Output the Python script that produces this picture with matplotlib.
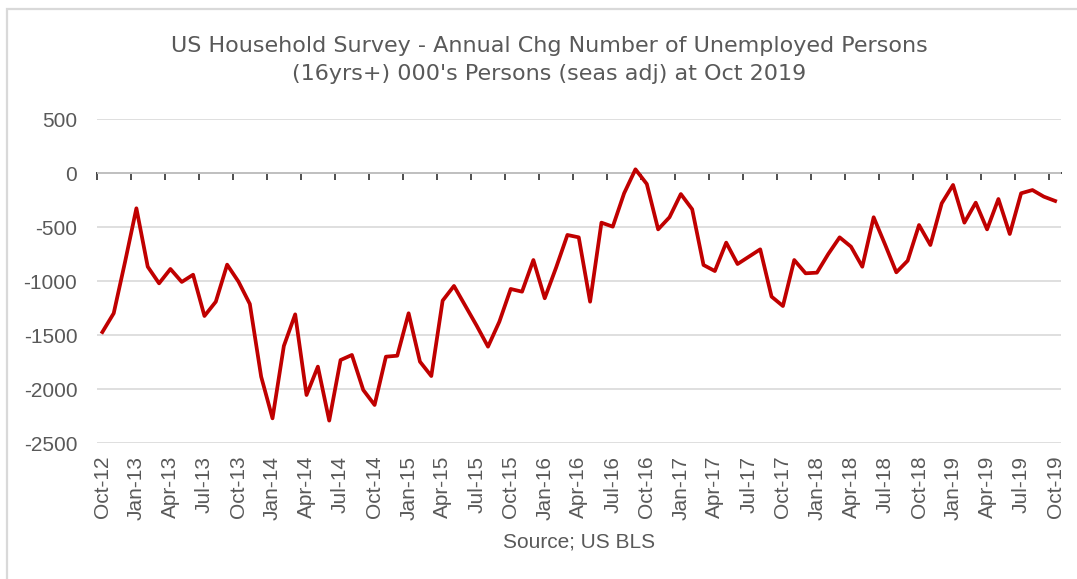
import numpy as np
import matplotlib
matplotlib.use("Agg")
import matplotlib.pyplot as plt
from matplotlib.patches import Rectangle

plt.rcParams['font.family'] = ['Liberation Sans', 'DejaVu Sans']

# Annual change in unemployed persons, 000's, monthly Oct-12 .. Oct-19
unemployed_chg = [
    -1470, -1296, -820, -324, -865, -1019, -886, -1006, -939, -1321,
    -1189, -846, -1003, -1210, -1883, -2269, -1599, -1306, -2053, -1790,
    -2290, -1729, -1682, -2006, -2145, -1698, -1689, -1296, -1744, -1877,
    -1179, -1043, -1227, -1411, -1605, -1374, -1071, -1096, -803, -1157,
    -874, -571, -593, -1189, -457, -494, -185, 37, -99, -519,
    -407, -192, -333, -849, -905, -642, -840, -772, -704, -1142,
    -1229, -803, -926, -920, -747, -593, -679, -865, -407, -658,
    -917, -809, -479, -664, -278, -108, -457, -272, -519, -238,
    -562, -185, -155, -216, -256,
]

quarter_labels = [
    "Oct-12", "Jan-13", "Apr-13", "Jul-13", "Oct-13", "Jan-14", "Apr-14",
    "Jul-14", "Oct-14", "Jan-15", "Apr-15", "Jul-15", "Oct-15", "Jan-16",
    "Apr-16", "Jul-16", "Oct-16", "Jan-17", "Apr-17", "Jul-17", "Oct-17",
    "Jan-18", "Apr-18", "Jul-18", "Oct-18", "Jan-19", "Apr-19", "Jul-19",
    "Oct-19",
]

y_ticks = [-2500, -2000, -1500, -1000, -500, 0, 500]

TEXT = '#595959'
GRID = '#d9d9d9'
W, H = 1077, 579

fig = plt.figure(figsize=(W / 100, H / 100), dpi=100)
fig.patch.set_facecolor('white')

# chart frame (runs off the right and bottom edges)
fig.patches.append(Rectangle((7 / W, -0.1), 1.2, 1 - 9 / H + 0.1,
                             transform=fig.transFigure, fill=False,
                             edgecolor=GRID, lw=1.6))

left, right, top, bottom = 96.7, 1060.8, 119.3, 443.3
ax = fig.add_axes([left / W, 1 - bottom / H, (right - left) / W, (bottom - top) / H])

x = np.arange(len(unemployed_chg))
ax.plot(x, unemployed_chg, color='#C00000', lw=2.7, solid_joinstyle='round', zorder=3)

ax.set_xlim(-0.5, len(unemployed_chg) - 0.5)
ax.set_ylim(y_ticks[0], y_ticks[-1])
ax.set_yticks(y_ticks)
ax.set_yticklabels([str(v) for v in y_ticks])
ax.grid(axis='y', color=GRID, lw=1.2)
ax.set_axisbelow(True)
for s in ax.spines.values():
    s.set_visible(False)

ax.set_xticks(x[::3])
ax.set_xticklabels(quarter_labels, rotation=90)
ax.tick_params(axis='x', length=0, pad=9, labelsize=15, labelcolor=TEXT)
ax.tick_params(axis='y', length=0, pad=14, labelsize=15, labelcolor=TEXT)

# category axis crossing at zero, with tick marks between categories
zero_frac = (0 - y_ticks[0]) / (y_ticks[-1] - y_ticks[0])
sec = ax.secondary_xaxis(zero_frac)
sec.set_alignment('bottom')
sec.set_xticks(np.arange(-0.5, len(unemployed_chg), 3))
sec.set_xticklabels([])
sec.tick_params(axis='x', direction='out', length=5, width=1.3, color='#404040')
sec.spines['bottom'].set_color('#404040')
sec.spines['bottom'].set_linewidth(1.4)
sec.spines['top'].set_visible(False)

title_font = ['DejaVu Sans']
fig.text(549.5 / W, 1 - 51.7 / H,
         "US Household Survey - Annual Chg Number of Unemployed Persons",
         ha='center', va='baseline', fontsize=16, color=TEXT, family=title_font)
fig.text(549.5 / W, 1 - 79.5 / H,
         "(16yrs+) 000's Persons (seas adj) at Oct 2019",
         ha='center', va='baseline', fontsize=16, color=TEXT, family=title_font)
fig.text((left + right) / 2 / W, 1 - 547 / H, "Source; US BLS",
         ha='center', va='baseline', fontsize=15, color=TEXT)

fig.savefig("out.png", dpi=100, facecolor='white')
